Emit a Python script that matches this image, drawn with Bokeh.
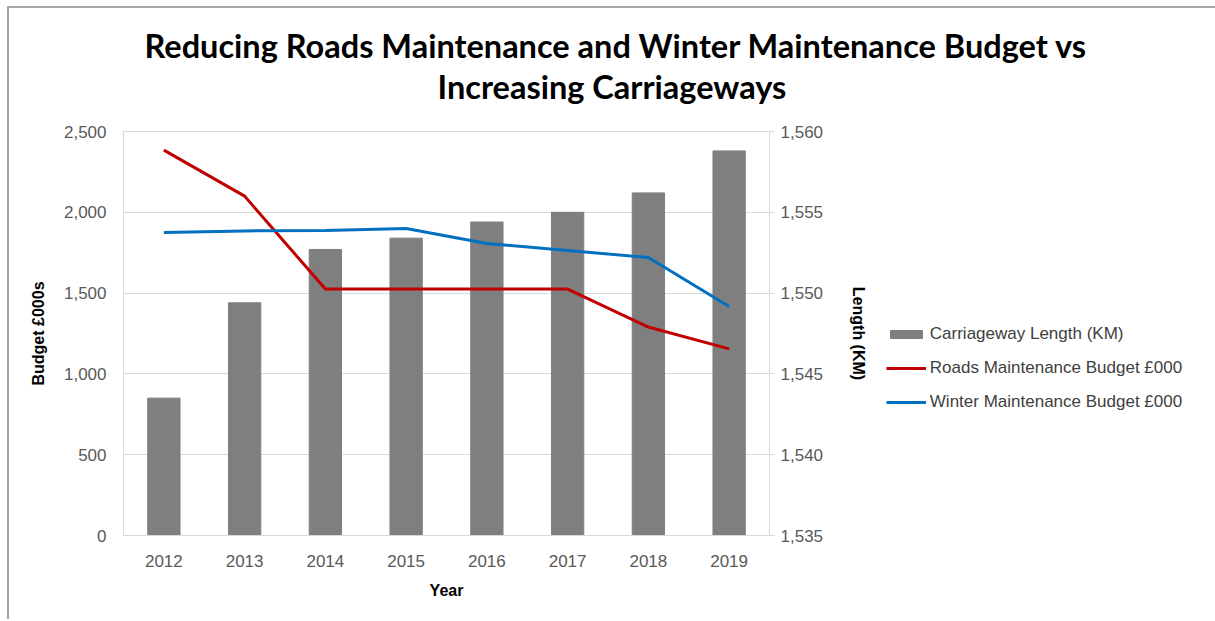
from bokeh.plotting import figure
from bokeh.models import Range1d, LinearAxis, Legend, LegendItem, NumeralTickFormatter, FactorRange, Title
from bokeh.embed import file_html
from bokeh.resources import INLINE

years = ["2012", "2013", "2014", "2015", "2016", "2017", "2018", "2019"]
carriageway_km = [1543.5, 1549.4, 1552.7, 1553.4, 1554.4, 1555.0, 1556.2, 1558.8]
roads_budget = [2385, 2100, 1525, 1525, 1525, 1525, 1290, 1155]
winter_budget = [1875, 1885, 1887, 1900, 1807, 1764, 1720, 1417]

title_line1 = "Reducing Roads Maintenance and Winter Maintenance Budget vs"
title_line2 = "Increasing Carriageways"

p = figure(x_range=FactorRange(*years), y_range=Range1d(0, 2500),
           frame_width=646, frame_height=404,
           min_border_left=114, min_border_top=123, min_border_right=430, min_border_bottom=84,
           output_backend="svg", toolbar_location=None, title=title_line1)
p.styles = {"border-left": "2px solid #a6a6a6", "border-top": "2px solid #a6a6a6",
            "margin-left": "7px", "margin-top": "6px"}

def style_title(t):
    t.align = "left"
    t.text_font = "Lato"
    t.text_font_size = "32.5px"
    t.text_font_style = "bold"
    t.text_color = "#000000"

style_title(p.title)
p.title.offset = 21
p.title.standoff = -50
t2 = Title(text=title_line2)
style_title(t2)
t2.offset = 314
t2.standoff = 51
p.add_layout(t2, "above")

p.extra_y_ranges = {"km": Range1d(1535, 1560)}

bars = p.vbar(x=years, top=carriageway_km, bottom=1535, width=0.4, y_range_name="km",
              fill_color="#7f7f7f", line_color="#7f7f7f")
red = p.line(x=years, y=roads_budget, line_color="#c00000", line_width=3)
blue = p.line(x=years, y=winter_budget, line_color="#0070c0", line_width=3)

font = "Liberation Sans"

def style_axis(ax):
    ax.major_label_text_font = font
    ax.major_label_text_font_size = "17px"
    ax.major_label_text_color = "#595959"
    ax.axis_label_text_font = font
    ax.axis_label_text_font_size = "16px"
    ax.axis_label_text_font_style = "bold"
    ax.axis_label_text_color = "#000000"
    ax.axis_line_color = "#d9d9d9"
    ax.major_tick_out = 0
    ax.major_tick_in = 0
    ax.minor_tick_out = 0
    ax.minor_tick_in = 0

style_axis(p.yaxis[0])
style_axis(p.xaxis[0])

p.yaxis[0].axis_label = "Budget £000s"
p.yaxis[0].formatter = NumeralTickFormatter(format="0,0")
p.yaxis[0].ticker.desired_num_ticks = 6
p.yaxis[0].major_label_standoff = 17
p.yaxis[0].axis_label_standoff = 14

p.xaxis[0].axis_label = "Year"
p.xaxis[0].major_label_standoff = 19
p.xaxis[0].axis_label_standoff = 12

ax2 = LinearAxis(y_range_name="km", axis_label="Length (KM)",
                 formatter=NumeralTickFormatter(format="0,0"))
ax2.ticker.desired_num_ticks = 6
style_axis(ax2)
ax2.major_tick_out = 5
ax2.major_tick_line_color = "#d9d9d9"
ax2.major_label_standoff = 6
ax2.axis_label_standoff = 24
p.add_layout(ax2, "right")

p.xgrid.grid_line_color = None
p.ygrid.grid_line_color = "#d9d9d9"
p.outline_line_color = "#d9d9d9"

legend = Legend(items=[
    LegendItem(label="Carriageway Length (KM)", renderers=[bars]),
    LegendItem(label="Roads Maintenance Budget £000", renderers=[red]),
    LegendItem(label="Winter Maintenance Budget £000", renderers=[blue]),
], location=(-215, 123))
legend.label_text_font = font
legend.label_text_font_size = "17px"
legend.label_text_color = "#404040"
legend.glyph_width = 40
legend.glyph_height = 10
legend.label_height = 20
legend.spacing = 14
legend.label_standoff = 4
legend.border_line_color = None
legend.background_fill_alpha = 0
legend.margin = 0
legend.padding = 5
p.add_layout(legend, "right")

open("out.html", "w").write(file_html(p, INLINE))
